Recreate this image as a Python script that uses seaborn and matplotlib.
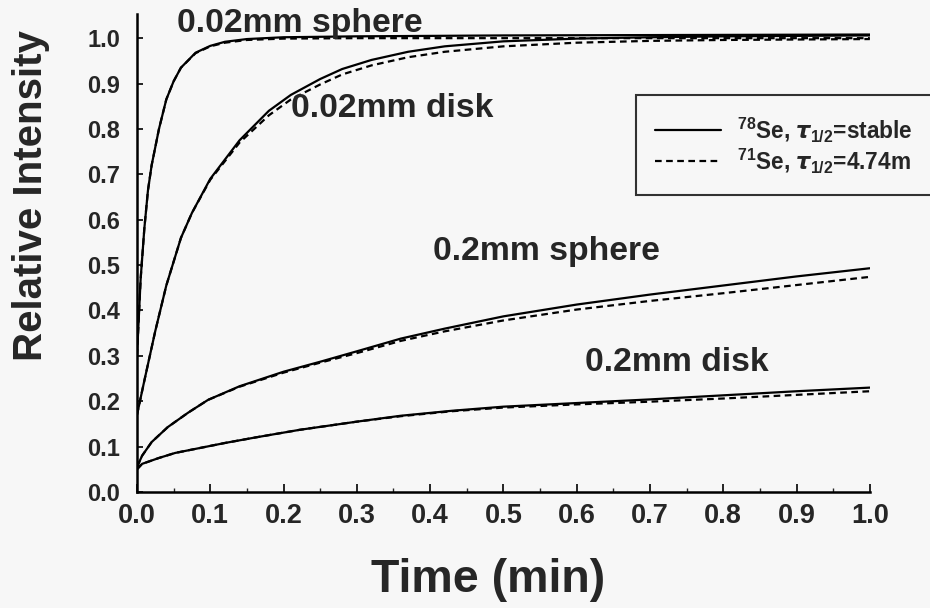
import numpy as np
import pandas as pd
import seaborn as sns
import matplotlib
matplotlib.use("Agg")
import matplotlib.pyplot as plt
from matplotlib.ticker import MultipleLocator

# ---- data ----
t_sph002 = [0, 0.005, 0.01, 0.015, 0.02, 0.03, 0.04, 0.05, 0.06, 0.08, 0.10, 0.12, 0.15, 0.20, 0.30, 0.50, 0.75, 1.0]
sph002_stable = [0.30, 0.47, 0.58, 0.665, 0.72, 0.80, 0.865, 0.905, 0.935, 0.968, 0.983, 0.992, 0.998, 1.002, 1.004, 1.006, 1.007, 1.008]
sph002_decay = [0.30, 0.47, 0.58, 0.665, 0.72, 0.80, 0.865, 0.905, 0.935, 0.967, 0.982, 0.990, 0.996, 0.999, 1.000, 1.000, 1.000, 1.000]

t_disk002 = [0, 0.01, 0.025, 0.04, 0.06, 0.075, 0.10, 0.14, 0.18, 0.21, 0.25, 0.28, 0.32, 0.37, 0.42, 0.5, 0.6, 0.7, 0.8, 0.9, 1.0]
disk002_stable = [0.17, 0.245, 0.355, 0.455, 0.56, 0.615, 0.69, 0.775, 0.84, 0.875, 0.91, 0.932, 0.952, 0.97, 0.982, 0.993, 0.999, 1.002, 1.004, 1.005, 1.006]
disk002_decay = [0.17, 0.245, 0.355, 0.455, 0.56, 0.615, 0.688, 0.77, 0.83, 0.865, 0.898, 0.92, 0.94, 0.958, 0.97, 0.982, 0.99, 0.994, 0.996, 0.997, 0.998]

t_sph02 = [0, 0.007, 0.02, 0.042, 0.07, 0.097, 0.14, 0.20, 0.25, 0.30, 0.36, 0.42, 0.5, 0.6, 0.7, 0.8, 0.9, 1.0]
sph02_stable = [0.055, 0.08, 0.11, 0.143, 0.175, 0.203, 0.233, 0.265, 0.287, 0.31, 0.338, 0.36, 0.387, 0.413, 0.435, 0.455, 0.475, 0.493]
sph02_decay = [0.055, 0.08, 0.11, 0.143, 0.175, 0.203, 0.232, 0.263, 0.285, 0.306, 0.333, 0.354, 0.378, 0.402, 0.421, 0.438, 0.456, 0.474]

t_disk02 = [0, 0.007, 0.03, 0.052, 0.086, 0.12, 0.161, 0.222, 0.3, 0.36, 0.43, 0.5, 0.6, 0.7, 0.8, 0.9, 1.0]
disk02_stable = [0.05, 0.062, 0.075, 0.086, 0.097, 0.108, 0.12, 0.137, 0.155, 0.168, 0.179, 0.188, 0.196, 0.204, 0.213, 0.222, 0.230]
disk02_decay = [0.05, 0.062, 0.075, 0.086, 0.097, 0.108, 0.12, 0.137, 0.155, 0.167, 0.178, 0.186, 0.193, 0.199, 0.206, 0.214, 0.222]

curve_labels = ["0.02mm sphere", "0.02mm disk", "0.2mm sphere", "0.2mm disk"]
isotope_labels = [r"$^{78}$Se, $\mathit{\tau}_{1/2}$=stable", r"$^{71}$Se, $\mathit{\tau}_{1/2}$=4.74m"]

xticks = [0.0, 0.1, 0.2, 0.3, 0.4, 0.5, 0.6, 0.7, 0.8, 0.9, 1.0]
yticks = [0.0, 0.1, 0.2, 0.3, 0.4, 0.5, 0.6, 0.7, 0.8, 0.9, 1.0]

# ---- build long-form table ----
rows = []
series = [
    (curve_labels[0], t_sph002, sph002_stable, sph002_decay),
    (curve_labels[1], t_disk002, disk002_stable, disk002_decay),
    (curve_labels[2], t_sph02, sph02_stable, sph02_decay),
    (curve_labels[3], t_disk02, disk02_stable, disk02_decay),
]
for name, t, s, d in series:
    for ti, v in zip(t, s):
        rows.append((name, isotope_labels[0], ti, v))
    for ti, v in zip(t, d):
        rows.append((name, isotope_labels[1], ti, v))
df = pd.DataFrame(rows, columns=["curve", "isotope", "time", "intensity"])

sns.set_theme(style="ticks")
plt.rcParams["font.family"] = ["Liberation Sans", "DejaVu Sans"]
plt.rcParams["font.weight"] = "bold"
plt.rcParams["mathtext.default"] = "regular"

bg = "#f7f7f7"
fig = plt.figure(figsize=(9.3, 6.08), dpi=100, facecolor=bg)
ax = fig.add_axes([0.1473, 0.1908, 0.788, 0.786])
ax.set_facecolor(bg)

sns.lineplot(data=df, x="time", y="intensity", units="curve", style="isotope",
             style_order=isotope_labels, dashes={isotope_labels[0]: "", isotope_labels[1]: (3, 2)},
             estimator=None, sort=False, color="black", linewidth=1.6, ax=ax)

ax.set_xlim(0, 1.0)
ax.set_ylim(0, 1.053)
ax.set_xticks(xticks)
ax.set_xticklabels([f"{v:.1f}" for v in xticks])
ax.set_yticks(yticks)
ax.set_yticklabels([f"{v:.1f}" for v in yticks])
ax.xaxis.set_minor_locator(MultipleLocator(0.05))
ax.tick_params(axis="both", which="major", direction="in", width=1.2, color="black")
ax.tick_params(axis="x", which="major", length=6, pad=8, labelsize=19.5)
ax.tick_params(axis="x", which="minor", direction="in", length=3, width=1.0)
ax.tick_params(axis="y", which="major", length=4, pad=12, labelsize=17)
for lab in ax.get_xticklabels() + ax.get_yticklabels():
    lab.set_fontweight("bold")

for side in ["top", "right"]:
    ax.spines[side].set_visible(False)
for side in ["left", "bottom"]:
    ax.spines[side].set_linewidth(1.8)
    ax.spines[side].set_color("black")

ax.set_xlabel("Time (min)", fontsize=33.5, fontweight="bold")
ax.set_ylabel("Relative Intensity", fontsize=29, fontweight="bold")
ax.xaxis.set_label_coords(0.479, -0.138)
ax.yaxis.set_label_coords(-0.119, 0.621)

# curve annotations
ann_pos = [(0.222, 1.033), (0.348, 0.846), (0.559, 0.529), (0.737, 0.286)]
for lab, (x, y) in zip(curve_labels, ann_pos):
    ax.text(x, y, lab, fontsize=24.3, fontweight="bold", ha="center", va="center")

# legend
handles, labels = ax.get_legend_handles_labels()
pairs = [(h, l) for h, l in zip(handles, labels) if l in isotope_labels]
leg = ax.legend([p[0] for p in pairs], [p[1] for p in pairs],
                loc="upper left", bbox_to_anchor=(0.684, 0.843), bbox_transform=fig.transFigure,
                fontsize=16.3, frameon=True, fancybox=False, handlelength=2.9, handletextpad=0.7,
                borderpad=0.85, labelspacing=0.12, borderaxespad=0)
leg.get_frame().set_edgecolor("black")
leg.get_frame().set_linewidth(1.5)
leg.get_frame().set_facecolor(bg)
for txt in leg.get_texts():
    txt.set_fontweight("bold")

fig.savefig("out.png", dpi=100, facecolor=bg)
